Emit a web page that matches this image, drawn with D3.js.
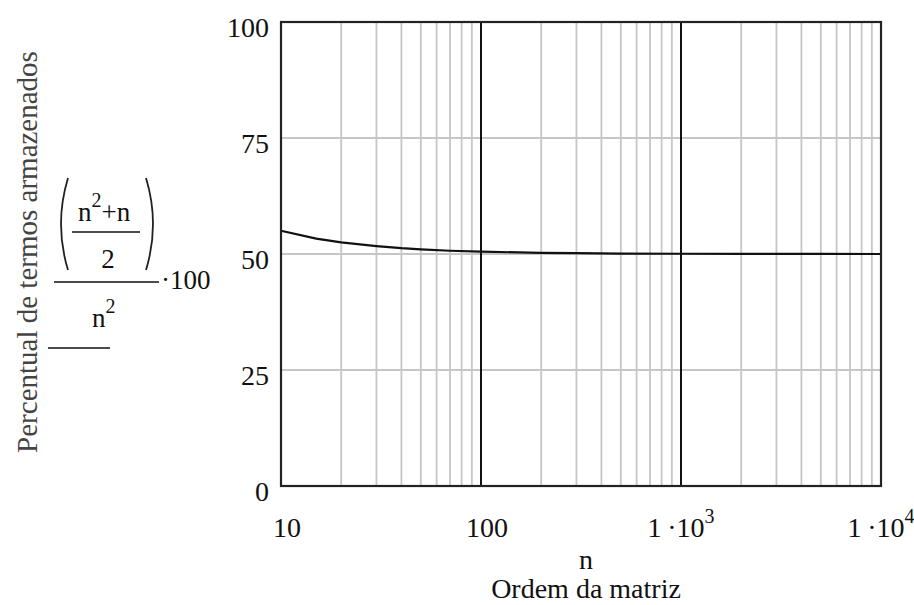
<!DOCTYPE html>
<html><head><meta charset="utf-8">
<script src="https://cdn.jsdelivr.net/npm/d3@7"></script>
<style>body{margin:0;background:#fff}svg{display:block}</style>
</head><body>
<svg id="c" width="914" height="605" font-family="'Liberation Serif', Tinos, 'Times New Roman', 'DejaVu Serif', serif"></svg>
<script>
// ---- data ----
const nValues   = [10, 15, 20, 30, 40, 50, 70, 100, 200, 300, 500, 1000, 2000, 5000, 10000];
const pctValues = [55, 53.3, 52.5, 51.7, 51.25, 51, 50.7, 50.5, 50.25, 50.17, 50.1, 50.05, 50.03, 50.01, 50.005];
const yTicks = [0, 25, 50, 75, 100];
const xTickValues = [10, 100, 1000, 10000];
const xTickLabels = [["10", ""], ["100", ""], ["1\u2009\u00b710", "3"], ["1\u2009\u00b710", "4"]];
const majorGrid = [100, 1000];
const yTitle = "Percentual de termos armazenados";
const xTitle1 = "n";
const xTitle2 = "Ordem da matriz";

// ---- layout ----
const L = 281, R = 881, T = 22, B = 486;
const svg = d3.select("#c");
const x = d3.scaleLog().domain([10, 10000]).range([L, R]);
const y = d3.scaleLinear().domain([0, 100]).range([B, T]);

// minor grid (2..9 per decade)
const minor = [];
[10, 100, 1000].forEach(d => { for (let k = 2; k <= 9; k++) minor.push(d * k); });
svg.append("g").selectAll("line").data(minor).join("line")
  .attr("x1", d => x(d)).attr("x2", d => x(d)).attr("y1", T).attr("y2", B)
  .attr("stroke", "#c6c6c6").attr("stroke-width", 1.8);
svg.append("g").selectAll("line").data(yTicks.filter(v => v > 0 && v < 100)).join("line")
  .attr("x1", L).attr("x2", R).attr("y1", d => y(d)).attr("y2", d => y(d))
  .attr("stroke", "#c6c6c6").attr("stroke-width", 1.8);
svg.append("g").selectAll("line").data(majorGrid).join("line")
  .attr("x1", d => x(d)).attr("x2", d => x(d)).attr("y1", T).attr("y2", B)
  .attr("stroke", "#111").attr("stroke-width", 2);

// curve
const line = d3.line().x((d, i) => x(nValues[i])).y(d => y(d));
svg.append("path").datum(pctValues).attr("d", line)
  .attr("fill", "none").attr("stroke", "#111").attr("stroke-width", 2.2);

// frame
svg.append("rect").attr("x", L).attr("y", T).attr("width", R - L).attr("height", B - T)
  .attr("fill", "none").attr("stroke", "#222").attr("stroke-width", 2.2);

// y ticks
svg.append("g").selectAll("text").data(yTicks).join("text")
  .attr("x", 269).attr("y", d => y(d) + 15).attr("text-anchor", "end")
  .attr("font-size", 28).attr("fill", "#111").text(d => d);

// x ticks
const xOff = [6, 6, 0, 0];
const xt = svg.append("g").selectAll("text").data(xTickValues).join("text")
  .attr("x", (d, i) => x(d) + xOff[i]).attr("y", 537).attr("text-anchor", "middle")
  .attr("font-size", 28).attr("fill", "#111");
xt.append("tspan").text((d, i) => xTickLabels[i][0]);
xt.append("tspan").attr("dy", -14).attr("font-size", 20).text((d, i) => xTickLabels[i][1]);

// x titles
svg.append("text").attr("x", 586).attr("y", 569).attr("text-anchor", "middle")
  .attr("font-size", 28).attr("fill", "#111").text(xTitle1);
svg.append("text").attr("x", 586).attr("y", 598).attr("text-anchor", "middle")
  .attr("font-size", 28).attr("fill", "#111").text(xTitle2);

// y title
svg.append("text").attr("transform", "translate(37,252) rotate(-90)")
  .attr("text-anchor", "middle").attr("font-size", 29).attr("fill", "#444").text(yTitle);

// formula
const f = svg.append("g").attr("fill", "#111").attr("font-size", 27);
const t1 = f.append("text").attr("x", 78).attr("y", 221);
t1.append("tspan").text("n");
t1.append("tspan").attr("dy", -14).attr("font-size", 20).text("2");
t1.append("tspan").attr("dy", 14).text("+n");
f.append("line").attr("x1", 72).attr("x2", 140).attr("y1", 232).attr("y2", 232).attr("stroke", "#111").attr("stroke-width", 1.6);
f.append("text").attr("x", 108).attr("y", 268).attr("text-anchor", "middle").text("2");
f.append("path").attr("d", "M68,178 Q54,224 68,270").attr("fill", "none").attr("stroke", "#222").attr("stroke-width", 1.8);
f.append("path").attr("d", "M146,178 Q160,224 146,270").attr("fill", "none").attr("stroke", "#222").attr("stroke-width", 1.8);
f.append("line").attr("x1", 54).attr("x2", 159).attr("y1", 282).attr("y2", 282).attr("stroke", "#111").attr("stroke-width", 1.6);
f.append("text").attr("x", 161).attr("y", 289).text("\u00b7100");
const t2 = f.append("text").attr("x", 92).attr("y", 327);
t2.append("tspan").text("n");
t2.append("tspan").attr("dy", -14).attr("font-size", 20).text("2");
f.append("line").attr("x1", 48).attr("x2", 110).attr("y1", 348).attr("y2", 348).attr("stroke", "#111").attr("stroke-width", 1.6);
</script>
</body></html>
